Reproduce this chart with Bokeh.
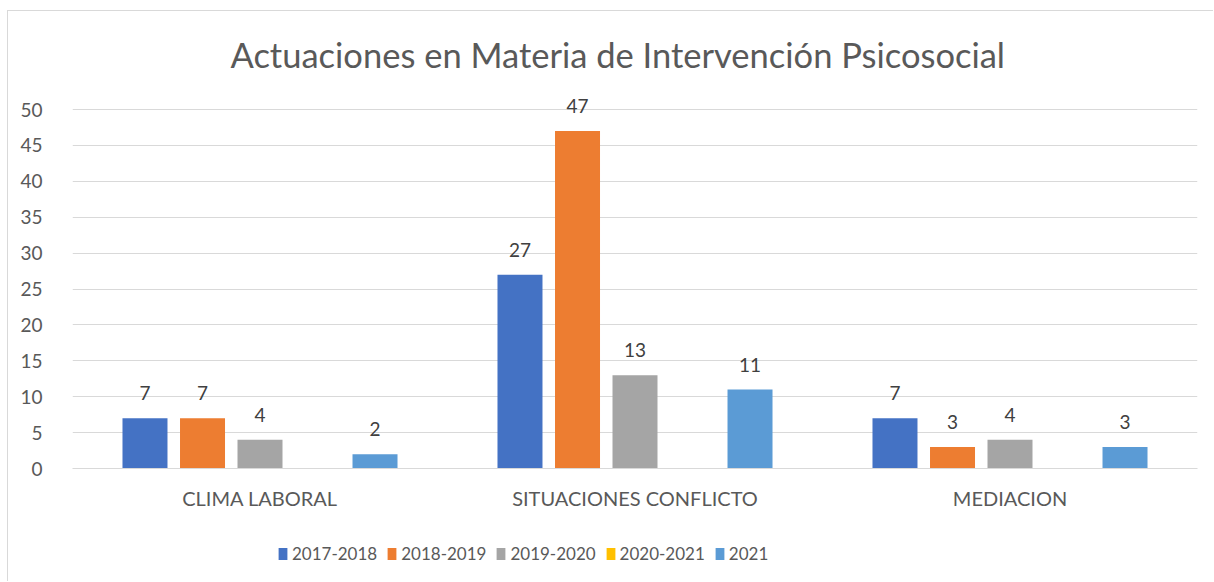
from bokeh.plotting import figure
from bokeh.layouts import column
from bokeh.models import ColumnDataSource, FactorRange, FixedTicker, Legend, LegendItem, LabelSet, Range1d
from bokeh.transform import dodge
from bokeh.embed import file_html
from bokeh.resources import INLINE
from bokeh.core.properties import value

categories = ["CLIMA LABORAL", "SITUACIONES CONFLICTO", "MEDIACION"]
series = ["2017-2018", "2018-2019", "2019-2020", "2020-2021", "2021"]
v_2017_2018 = [7, 27, 7]
v_2018_2019 = [7, 47, 3]
v_2019_2020 = [4, 13, 4]
v_2020_2021 = [None, None, None]
v_2021 = [2, 11, 3]
y_ticks = [0, 5, 10, 15, 20, 25, 30, 35, 40, 45, 50]

values = [v_2017_2018, v_2018_2019, v_2019_2020, v_2020_2021, v_2021]
colors = ["#4472C4", "#ED7D31", "#A5A5A5", "#FFC000", "#5B9BD5"]
offsets = [-0.3067, -0.1533, 0.0, 0.1533, 0.3067]
FONT = "Lato"

p = figure(x_range=FactorRange(*categories), y_range=Range1d(0, 51.95),
           width=1205, height=514, output_backend="svg", toolbar_location=None,
           min_border_left=64, min_border_right=16, min_border_top=84, min_border_bottom=57)
p.outline_line_color = None
p.background_fill_color = "white"
p.border_fill_color = "white"

p.title.text = "Actuaciones en Materia de Intervención Psicosocial"
p.title.align = "left"
p.title.offset = 158
p.title.text_font = FONT
p.title.text_font_size = "34.5px"
p.title.text_font_style = "normal"
p.title.text_color = "#595959"
p.title.standoff = 41

# legend-only strip below the chart
p2 = figure(x_range=Range1d(0, 1), y_range=Range1d(100, 101),
            width=1205, height=56, output_backend="svg", toolbar_location=None,
            x_axis_location=None, y_axis_location=None,
            min_border_left=0, min_border_right=0, min_border_top=0, min_border_bottom=0)
p2.outline_line_color = None
p2.grid.grid_line_color = None
p2.background_fill_color = "white"
p2.border_fill_color = "white"

items = []
for name, vals, col, off in zip(series, values, colors, offsets):
    tops = [float("nan") if v is None else v for v in vals]
    src = ColumnDataSource(dict(cat=categories, top=tops,
                                lab=["" if v is None else str(v) for v in vals]))
    p.vbar(x=dodge("cat", off, range=p.x_range), top="top", width=0.12,
           source=src, fill_color=col, line_color=None)
    r2 = p2.vbar(x=0.5, top=tops[0] if tops[0] == tops[0] else 0, width=0.1,
                 fill_color=col, line_color=None)
    items.append(LegendItem(label=name, renderers=[r2]))
    if all(v is not None for v in vals):
        ls = LabelSet(x=dodge("cat", off, range=p.x_range), y="top", text="lab", source=src,
                      text_align="center", text_baseline="alphabetic", y_offset=18,
                      text_font=value(FONT), text_font_size=value("19px"), text_color="#404040")
        p.add_layout(ls)

p.xgrid.grid_line_color = None
p.ygrid.grid_line_color = "#d9d9d9"
p.ygrid.grid_line_width = 1
p.yaxis.ticker = FixedTicker(ticks=y_ticks)
p.yaxis.axis_line_color = None
p.yaxis.major_tick_line_color = None
p.yaxis.minor_tick_line_color = None
p.yaxis.major_label_standoff = 24
p.yaxis.major_label_text_font = FONT
p.yaxis.major_label_text_font_size = "19px"
p.yaxis.major_label_text_color = "#595959"

p.xaxis.axis_line_color = "#d9d9d9"
p.xaxis.major_tick_line_color = None
p.xaxis.minor_tick_line_color = None
p.xaxis.major_label_standoff = 11
p.xaxis.major_label_text_font = FONT
p.xaxis.major_label_text_font_size = "20px"
p.xaxis.major_label_text_color = "#595959"

legend = Legend(items=items, orientation="horizontal", location=(205, 17),
                label_text_font=FONT, label_text_font_size="17px", label_text_color="#595959",
                glyph_width=11, glyph_height=15, label_standoff=4, spacing=9,
                border_line_color=None, background_fill_alpha=0, margin=0, padding=4)
p2.add_layout(legend)

layout = column(p, p2, spacing=0,
                styles={"border-left": "1px solid #d9d9d9", "border-top": "1px solid #d9d9d9",
                        "margin-left": "7px", "margin-top": "10px", "background": "white"})

open("out.html", "w").write(file_html(layout, INLINE))
